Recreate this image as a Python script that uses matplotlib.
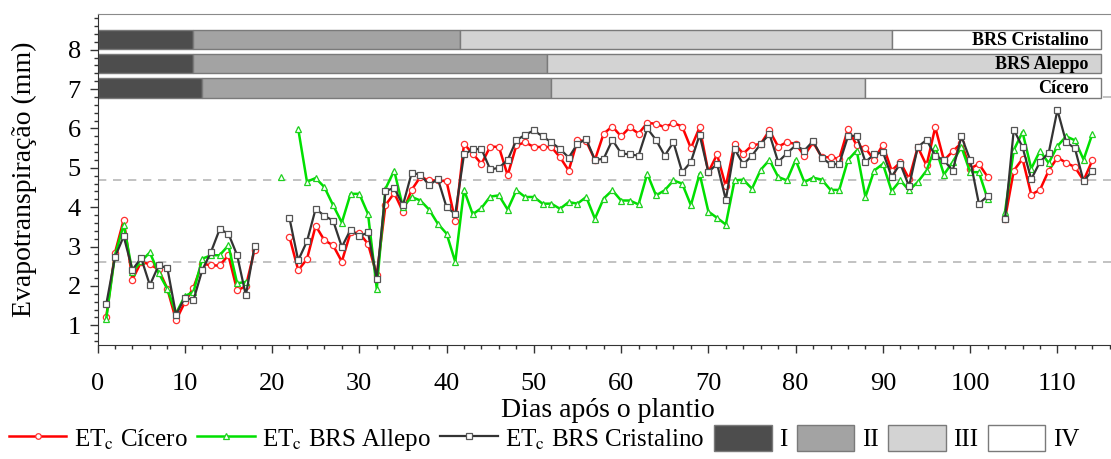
import matplotlib

matplotlib.use("Agg")
import matplotlib.pyplot as plt  # noqa: E402
import numpy as np
from matplotlib.lines import Line2D
from matplotlib.patches import Patch
from matplotlib.ticker import MultipleLocator

plt.rcParams["font.family"] = ["Liberation Serif", "DejaVu Serif"]
plt.rcParams["mathtext.fontset"] = "stix"

nan = np.nan

# days after planting, three measured stretches
days_a = list(range(1, 19))
days_b = list(range(21, 103))
days_c = list(range(104, 115))

# ETc (mm) - Cicero
cicero_a = [1.20, 2.84, 3.68, 2.16, 2.61, 2.55, 2.42, 1.93, 1.13, 1.58, 1.96, 2.57,
            2.52, 2.52, 2.78, 1.89, 1.99, 2.92]
cicero_b = [nan, 3.24, 2.40, 2.68, 3.53, 3.16, 3.03, 2.62, 3.36, 3.34, 3.07, 2.27,
            4.05, 4.36, 3.89, 4.44, 4.77, 4.68, 4.68, 4.66, 3.65, 5.61, 5.36, 5.10,
            5.54, 5.53, 4.81, 5.57, 5.65, 5.53, 5.53, 5.53, 5.27, 4.93, 5.70, 5.68,
            5.20, 5.87, 6.05, 5.80, 6.03, 5.87, 6.14, 6.12, 6.03, 6.14, 6.05, 5.50,
            6.03, 4.89, 5.34, 4.53, 5.61, 5.36, 5.57, 5.61, 5.95, 5.54, 5.65, 5.61,
            5.31, 5.65, 5.27, 5.27, 5.23, 5.99, 5.57, 5.50, 5.20, 5.59, 4.93, 5.14,
            4.72, 5.53, 5.06, 6.03, 5.19, 5.42, 5.63, 4.98, 5.10, 4.77]
cicero_c = [3.71, 4.93, 5.23, 4.32, 4.44, 4.93, 5.26, 5.13, 5.02, 4.68, 5.19]

# ETc (mm) - BRS Aleppo
aleppo_a = [1.17, 2.78, 3.56, 2.35, 2.63, 2.85, 2.33, 1.93, 1.30, 1.74, 1.85, 2.69,
            2.78, 2.78, 3.03, 2.07, 2.10, nan]
aleppo_b = [4.78, nan, 5.99, 4.65, 4.74, 4.51, 4.05, 3.61, 4.34, 4.34, 3.83, 1.93,
            4.47, 4.93, 4.00, 4.26, 4.17, 3.94, 3.58, 3.33, 2.61, 4.44, 3.82, 3.98,
            4.27, 4.30, 3.94, 4.43, 4.26, 4.26, 4.09, 4.09, 3.96, 4.13, 4.09, 4.26,
            3.71, 4.22, 4.43, 4.17, 4.17, 4.07, 4.85, 4.30, 4.43, 4.68, 4.60, 4.05,
            4.85, 3.89, 3.73, 3.56, 4.68, 4.70, 4.47, 4.95, 5.20, 4.77, 4.68, 5.20,
            4.64, 4.75, 4.70, 4.44, 4.44, 5.20, 5.44, 4.26, 4.93, 5.10, 4.41, 4.68,
            4.43, 4.64, 4.93, 5.53, 4.83, 5.15, 5.53, 4.89, 4.89, 4.21]
aleppo_c = [3.89, 5.45, 5.91, 4.98, 5.43, 5.12, 5.55, 5.80, 5.70, 5.21, 5.86]

# ETc (mm) - BRS Cristalino
cristalino_a = [1.53, 2.73, 3.26, 2.41, 2.71, 2.02, 2.52, 2.46, 1.27, 1.70, 1.64, 2.40,
                2.86, 3.44, 3.33, 2.78, 1.76, 3.01]
cristalino_b = [nan, 3.72, 2.65, 3.13, 3.96, 3.78, 3.66, 2.99, 3.43, 3.26, 3.36, 2.18,
                4.41, 4.49, 4.05, 4.87, 4.83, 4.56, 4.72, 4.00, 3.83, 5.34, 5.47, 5.48,
                4.96, 5.00, 5.20, 5.70, 5.84, 5.95, 5.80, 5.65, 5.48, 5.26, 5.61, 5.73,
                5.20, 5.23, 5.71, 5.37, 5.34, 5.31, 6.00, 5.71, 5.31, 5.65, 4.89, 5.15,
                5.84, 4.89, 5.10, 4.19, 5.48, 5.09, 5.31, 5.61, 5.86, 5.15, 5.37, 5.57,
                5.44, 5.68, 5.26, 5.09, 5.10, 5.80, 5.82, 5.15, 5.34, 5.40, 4.78, 5.10,
                4.53, 5.53, 5.71, 5.31, 5.19, 4.93, 5.80, 5.20, 4.09, 4.28]
cristalino_c = [3.71, 5.97, 5.53, 4.71, 5.15, 5.38, 6.47, 5.65, 5.50, 4.66, 4.93]

# phase limits (days) for each cultivar, stages I..IV
phase_names = ["I", "II", "III", "IV"]
phase_colors = ["#4d4d4d", "#a3a3a3", "#d3d3d3", "#ffffff"]
cultivars = ["Cícero", "BRS Aleppo", "BRS Cristalino"]
phase_limits = [
    [0, 12, 52, 88, 115],
    [0, 11, 51.5, 115],
    [0, 11, 41.5, 91, 115],
]
bar_y = [7.03, 7.65, 8.26]
ref_lines = [2.6, 4.7, 6.8]

series = [
    ("ET$_\\mathrm{c}$ Cícero", [cicero_a, cicero_b, cicero_c],
     dict(color="#ff0000", marker="o", mec="#ff3030", lw=1.8)),
    ("ET$_\\mathrm{c}$ BRS Allepo", [aleppo_a, aleppo_b, aleppo_c],
     dict(color="#00e000", marker="^", mec="#20d020", lw=1.8)),
    ("ET$_\\mathrm{c}$ BRS Cristalino", [cristalino_a, cristalino_b, cristalino_c],
     dict(color="#333333", marker="s", mec="#555555", lw=1.6)),
]

fig = plt.figure(figsize=(11.11, 4.59), dpi=100)
ax = fig.add_axes([97.5 / 1111, 114 / 459, 1021 / 1111, 330.7 / 459])

for y in ref_lines:
    ax.axhline(y, color="#b8b8b8", lw=1.2, ls=(0, (5, 4)), zorder=1)

for name, yc, limits in zip(cultivars, bar_y, phase_limits):
    for i in range(len(limits) - 1):
        ax.barh(yc, limits[i + 1] - limits[i], left=limits[i], height=0.5,
                color=phase_colors[i], edgecolor="#7a7a7a", lw=1.0, zorder=2)
    ax.text(113.6, yc - 0.02, name, ha="right", va="center", fontsize=13,
            fontweight="bold", zorder=3)

handles = []
for label, parts, style in series:
    for days, vals in zip([days_a, days_b, days_c], parts):
        ax.plot(days, vals, ms=4.5, mfc="white", mew=0.9, zorder=4, **style)
    handles.append(Line2D([], [], ms=4, mfc="white", mew=0.9, **style))

ax.set_xlim(0, 117)
ax.set_ylim(0.5, 8.9)
ax.xaxis.set_major_locator(MultipleLocator(10))
ax.xaxis.set_minor_locator(MultipleLocator(2))
ax.yaxis.set_major_locator(MultipleLocator(1))
ax.yaxis.set_minor_locator(MultipleLocator(0.2))
ax.tick_params(which="major", direction="out", length=6, width=1, labelsize=19,
               color="#333333")
ax.tick_params(which="minor", direction="out", length=3, width=1, color="#333333")
ax.tick_params(axis="x", which="major", pad=14)
ax.tick_params(axis="y", which="major", pad=6)
ax.spines["right"].set_visible(False)
ax.spines["top"].set_color("#8a8a8a")
for s in ("left", "bottom"):
    ax.spines[s].set_color("#333333")

ax.set_xlabel("Dias após o plantio", fontsize=20, labelpad=2)
ax.set_ylabel("Evapotranspiração (mm)", fontsize=20, labelpad=22)

handles += [Patch(facecolor=c, edgecolor="#7a7a7a") for c in phase_colors]
labels = [s[0] for s in series] + phase_names
fig.legend(handles, labels, loc="lower left", bbox_to_anchor=(0.008, 0.012),
           ncol=7, frameon=False, fontsize=18, handlelength=2.3, handleheight=1.2,
           handletextpad=0.3, columnspacing=0.38, borderaxespad=0, borderpad=0)

fig.savefig("out.png", dpi=100, facecolor="white")
